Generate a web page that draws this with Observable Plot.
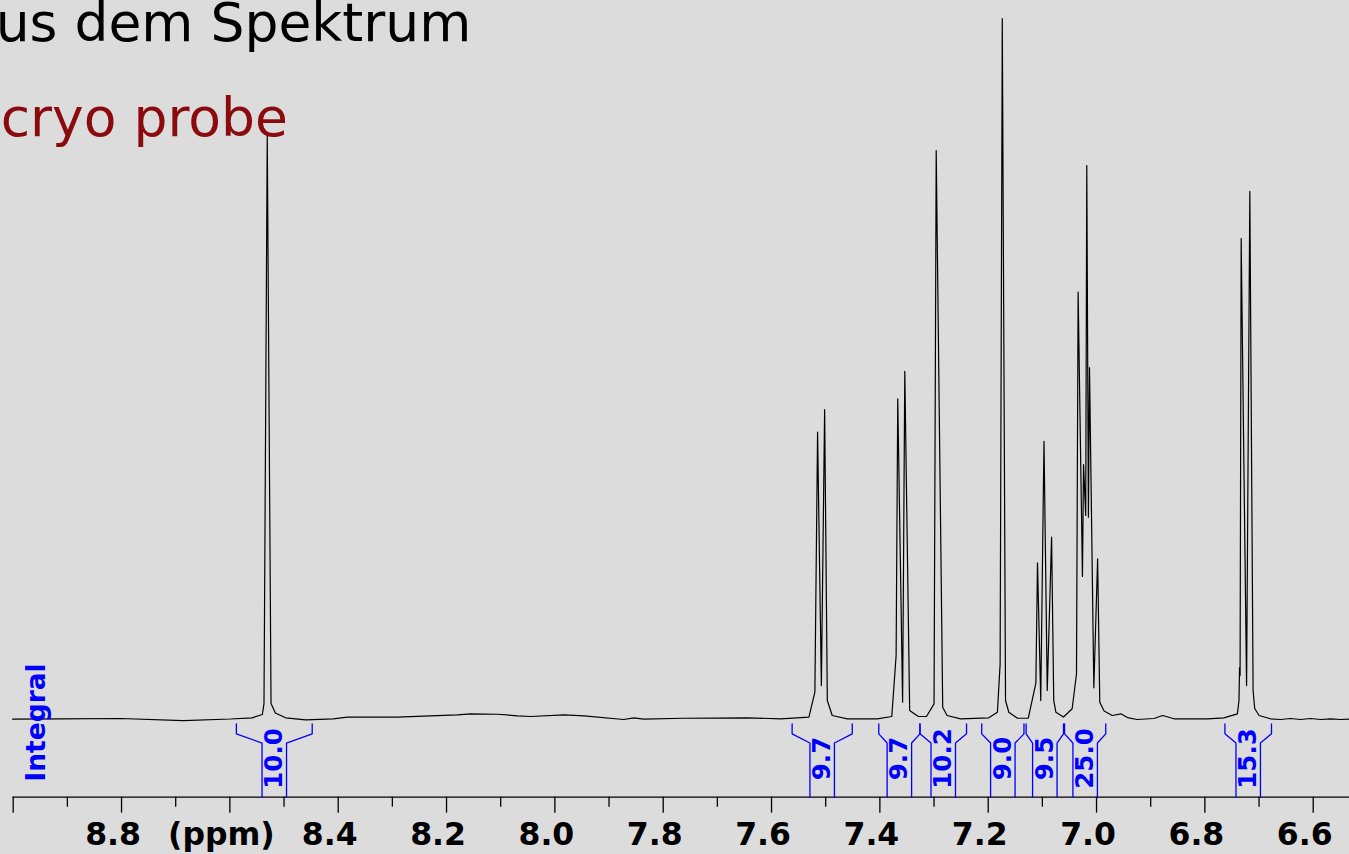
<!DOCTYPE html>
<html><head><meta charset="utf-8">
<script src="https://cdn.jsdelivr.net/npm/d3@7"></script>
<script src="https://cdn.jsdelivr.net/npm/@observablehq/plot@0.6"></script>
<style>html,body{margin:0;padding:0;background:#dcdcdc;overflow:hidden}</style>
</head><body><div id="chart"></div><script>
// Spectrum trace (ppm, intensity in % of tallest peak)
const specPpm = [9.001, 8.913, 8.802, 8.686, 8.599, 8.559, 8.540, 8.537, 8.531, 8.524, 8.516, 8.497, 8.460, 8.409,
  8.383, 8.291, 8.230, 8.180, 8.156, 8.106, 8.069, 8.045, 7.983, 7.946, 7.873, 7.854, 7.836, 7.762, 7.645, 7.583,
  7.531, 7.520, 7.515, 7.508, 7.502, 7.497, 7.488, 7.460, 7.405, 7.378, 7.370, 7.367, 7.358, 7.354, 7.345, 7.329,
  7.314, 7.300, 7.296, 7.284, 7.276, 7.251, 7.199, 7.183, 7.178, 7.174, 7.168, 7.162, 7.146, 7.126, 7.112, 7.109,
  7.103, 7.097, 7.091, 7.083, 7.079, 7.075, 7.061, 7.045, 7.037, 7.034, 7.026, 7.024, 7.020, 7.018, 7.015, 7.013,
  7.005, 6.998, 6.994, 6.986, 6.971, 6.955, 6.943, 6.925, 6.894, 6.878, 6.857, 6.795, 6.765, 6.740, 6.737, 6.736,
  6.735, 6.733, 6.723, 6.717, 6.711, 6.708, 6.700, 6.679, 6.660, 6.642, 6.623, 6.605, 6.586, 6.568, 6.549, 6.533];
const specInt = [-0.10, -0.04, 0.00, -0.29, -0.07, 0.10, 0.57, 2.14, 83.29, 2.14, 0.79, 0.10, -0.19, -0.04,
  0.19, 0.19, 0.39, 0.53, 0.67, 0.61, 0.39, 0.29, 0.53, 0.39, -0.14, 0.10, -0.10, 0.04, 0.10, -0.04,
  0.19, 3.76, 40.90, 4.71, 44.14, 2.57, 0.43, -0.04, -0.04, 0.29, 9.00, 45.67, 2.33, 49.61, 1.14, 0.29,
  0.29, 2.10, 81.14, 1.61, 0.43, -0.04, 0.10, 0.90, 7.81, 100.0, 2.57, 0.90, 0.04, 0.04, 5.04, 22.24,
  2.57, 39.61, 4.00, 25.90, 2.57, 0.90, 0.21, 1.39, 6.39, 60.90, 20.29, 36.29, 29.00, 79.00, 28.76, 50.14,
  4.39, 22.81, 2.33, 1.07, 0.43, 0.67, 0.14, -0.14, 0.00, 0.43, -0.04, -0.04, 0.10, 0.67, 2.57, 7.29,
  6.14, 68.57, 4.71, 75.29, 4.00, 1.43, 0.43, -0.04, -0.14, 0.00, -0.14, 0.00, -0.14, -0.04, -0.14, -0.07];

// Integral regions
const integralFrom = [8.588, 7.562, 7.402, 7.326, 7.212, 7.130, 7.059, 6.763];
const integralTo   = [8.448, 7.451, 7.326, 7.240, 7.134, 7.061, 6.983, 6.677];
const integralValues = ["10.0", "9.7", "9.7", "10.2", "9.0", "9.5", "25.0", "15.3"];

// Axis ticks
const majorTicks = [9.0, 8.8, 8.6, 8.4, 8.2, 8.0, 7.8, 7.6, 7.4, 7.2, 7.0, 6.8, 6.6];
const majorLabels = ["", "8.8", "(ppm)", "8.4", "8.2", "8.0", "7.8", "7.6", "7.4", "7.2", "7.0", "6.8", "6.6"];
const minorTicks = [8.9, 8.7, 8.5, 8.3, 8.1, 7.9, 7.7, 7.5, 7.3, 7.1, 6.9, 6.7];

const titleText = ["us dem Spektrum"];
const subtitleText = ["cryo probe"];
const integralTitle = ["Integral"];

// ---- build tables ----
const spectrum = specPpm.map((p, i) => ({ppm: p, intensity: specInt[i]}));
const integrals = integralFrom.map((f, i) => ({from: f, to: integralTo[i], value: integralValues[i]}));
const labelMap = new Map(majorTicks.map((t, i) => [t.toFixed(1), majorLabels[i]]));

// bracket geometry (style constants)
const yTop = -0.76, yMid = -2.19, yInner = -3.5, yAxis = -11.24, yLabel = -5.71;
const innerHalf = 0.0226; // ppm
const brackets = [];
integrals.forEach((d, i) => {
  const c = (d.from + d.to) / 2;
  [[d.from, c + innerHalf], [d.to, c - innerHalf]].forEach(([outer, inner], s) => {
    const id = i * 2 + s;
    brackets.push({id, x: outer, y: yTop}, {id, x: outer, y: yMid}, {id, x: inner, y: yInner}, {id, x: inner, y: yAxis});
  });
});

const font = "DejaVu Sans, Verdana, sans-serif";
const chart = Plot.plot({
  width: 1349, height: 854,
  marginLeft: 12.7, marginRight: 0, marginTop: 18, marginBottom: 57.3,
  style: {background: "#dcdcdc", color: "black", fontFamily: font, overflow: "visible"},
  x: {domain: [9.0, 6.533]},
  y: {domain: [yAxis, 100], axis: null},
  marks: [
    Plot.frame({anchor: "bottom", stroke: "black", strokeWidth: 1.3}),
    Plot.axisX({ticks: minorTicks, tickSize: 10, tickFormat: () => "", strokeWidth: 1.3, label: null}),
    Plot.axisX({ticks: majorTicks, tickSize: 16, tickFormat: () => "", strokeWidth: 1.3, label: null}),
    Plot.axisX({ticks: majorTicks, tickSize: 0, tickPadding: 25.3, tickFormat: d => labelMap.get(d.toFixed(1)),
      fontSize: 31.5, fontWeight: "bold", dx: -8.5, fill: "black", label: null}),
    Plot.line(spectrum, {x: "ppm", y: "intensity", stroke: "black", strokeWidth: 1.2}),
    Plot.line(brackets, {x: "x", y: "y", z: "id", stroke: "#0000ff", strokeWidth: 1.3}),
    Plot.text(integrals, {x: d => (d.from + d.to) / 2, y: yLabel, text: "value", rotate: -90,
      fill: "#0000ff", fontWeight: "bold", fontSize: 24.5, textAnchor: "middle"}),
    Plot.text(integralTitle, {x: 8.957, y: -0.57, text: d => d, rotate: -90,
      fill: "#0000ff", fontWeight: "bold", fontSize: 26.5, textAnchor: "middle"}),
    Plot.text(titleText, {frameAnchor: "top-left", text: d => d, textAnchor: "start", lineAnchor: "bottom",
      dx: -17.5, dy: 22, fontSize: 53.5, fill: "black"}),
    Plot.text(subtitleText, {frameAnchor: "top-left", text: d => d, textAnchor: "start", lineAnchor: "bottom",
      dx: -12.5, dy: 117, fontSize: 53.5, fill: "#8b0a0e"})
  ]
});
document.getElementById("chart").appendChild(chart);
</script></body></html>
